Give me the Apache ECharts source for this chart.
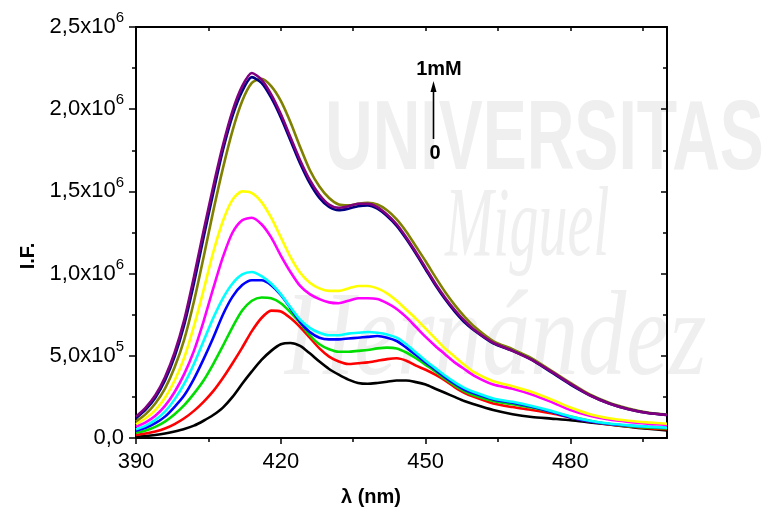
<!DOCTYPE html>
<html><head><meta charset="utf-8">
<script src="https://cdn.jsdelivr.net/npm/echarts@6/dist/echarts.min.js"></script>
<style>html,body{margin:0;padding:0;background:#fff}#c{width:767px;height:509px}</style>
</head><body><div id="c"></div>
<script>
// wavelength grid (nm)
const wavelengths = [390,392,394,396,398,400,402,404,406,408,410,412,414,416,418,420,422,424,426,428,430,432,434,436,438,440,442,444,446,448,450,452,454,456,458,460,464,468,472,476,480,484,488,492,496,500];
// fluorescence intensity, in units of 1e5
const black   = [0.08,0.12,0.18,0.27,0.4,0.55,0.75,1.05,1.4,1.85,2.5,3.3,4.05,4.75,5.3,5.7,5.78,5.6,5.15,4.65,4.2,3.85,3.55,3.35,3.3,3.35,3.42,3.5,3.5,3.4,3.25,3.0,2.75,2.5,2.25,2.05,1.7,1.45,1.28,1.18,1.08,0.95,0.82,0.68,0.56,0.46];
const red     = [0.18,0.27,0.4,0.58,0.85,1.2,1.65,2.2,2.85,3.65,4.55,5.5,6.5,7.3,7.75,7.7,7.3,6.75,6.1,5.45,4.95,4.65,4.5,4.55,4.6,4.7,4.8,4.85,4.7,4.4,4.15,3.85,3.5,3.1,2.75,2.5,2.1,1.88,1.7,1.5,1.25,1.0,0.82,0.7,0.6,0.53];
const green   = [0.32,0.46,0.68,1.0,1.45,2.0,2.7,3.5,4.5,5.6,6.75,7.75,8.35,8.55,8.5,8.2,7.65,7.0,6.25,5.7,5.4,5.25,5.25,5.3,5.35,5.45,5.5,5.45,5.2,4.85,4.45,4.05,3.6,3.2,2.85,2.6,2.25,2.05,1.85,1.6,1.3,1.05,0.85,0.72,0.64,0.58];
const blue    = [0.44,0.62,0.9,1.3,1.9,2.6,3.6,4.8,6.1,7.5,8.6,9.3,9.6,9.6,9.3,8.7,7.9,7.05,6.45,6.1,6.0,6.0,6.05,6.1,6.15,6.2,6.1,5.9,5.5,5.05,4.6,4.15,3.7,3.3,2.95,2.72,2.35,2.15,1.9,1.6,1.25,1.0,0.85,0.75,0.68,0.62];
const cyan    = [0.53,0.75,1.1,1.6,2.35,3.3,4.5,5.9,7.3,8.5,9.4,9.95,10.1,9.85,9.4,8.75,7.95,7.2,6.7,6.4,6.25,6.25,6.35,6.4,6.45,6.4,6.3,6.1,5.7,5.2,4.7,4.25,3.8,3.4,3.05,2.8,2.4,2.2,1.95,1.65,1.3,1.05,0.88,0.77,0.69,0.63];
const magenta = [0.69,0.95,1.35,1.95,2.8,3.9,5.3,7.1,9.1,11.0,12.5,13.25,13.4,13.0,12.2,11.1,10.1,9.25,8.75,8.45,8.25,8.2,8.35,8.5,8.5,8.45,8.2,7.85,7.35,6.75,6.15,5.6,5.1,4.6,4.2,3.8,3.25,3.0,2.65,2.2,1.7,1.35,1.12,0.98,0.87,0.8];
const yellow  = [0.85,1.2,1.7,2.45,3.5,4.9,6.8,9.0,11.3,13.2,14.5,15.0,14.9,14.35,13.4,12.2,11.0,10.05,9.45,9.1,8.95,8.95,9.1,9.25,9.25,9.1,8.8,8.35,7.8,7.25,6.65,6.05,5.45,4.95,4.45,4.0,3.45,3.15,2.8,2.35,1.85,1.45,1.2,1.05,0.95,0.87];
const olive   = [1.0,1.45,2.1,3.0,4.3,6.0,8.3,11.0,13.8,16.4,18.7,20.5,21.6,21.85,21.4,20.5,19.2,17.7,16.3,15.3,14.6,14.2,14.15,14.25,14.3,14.2,13.85,13.3,12.55,11.65,10.75,9.8,8.9,8.1,7.4,6.8,5.9,5.4,4.85,4.1,3.35,2.65,2.15,1.8,1.55,1.42];
const navy    = [1.2,1.72,2.45,3.5,4.95,6.9,9.4,12.2,14.9,17.5,19.6,21.1,21.95,21.6,20.7,19.5,18.1,16.7,15.5,14.6,14.05,13.85,13.95,14.1,14.15,13.95,13.5,12.9,12.1,11.2,10.25,9.3,8.45,7.7,7.05,6.55,5.75,5.3,4.75,4.0,3.25,2.6,2.1,1.75,1.52,1.4];
const purple  = [1.3,1.85,2.6,3.7,5.2,7.2,9.8,12.6,15.3,17.8,19.9,21.4,22.2,21.8,20.9,19.7,18.3,16.9,15.7,14.8,14.2,14.0,14.1,14.25,14.25,14.05,13.6,13.0,12.2,11.3,10.35,9.4,8.55,7.8,7.15,6.6,5.8,5.3,4.75,4.05,3.3,2.6,2.1,1.75,1.52,1.4];

const xMajorTicks = [390,420,450,480];
const xMinorTicks = [405,435,465,495];
const yTickValues = [0,500000,1000000,1500000,2000000,2500000];
const yTickMantissa = ['0,0','5,0x10','1,0x10','1,5x10','2,0x10','2,5x10'];
const yTickExponent = ['','5','6','6','6','6'];

const seriesList = [
  {name:'s0', data:black, color:'#000000'},
  {name:'s1', data:red, color:'#ff0000'},
  {name:'s2', data:green, color:'#00dd00'},
  {name:'s3', data:blue, color:'#0000ff'},
  {name:'s4', data:cyan, color:'#00ffff'},
  {name:'s5', data:magenta, color:'#ff00ff'},
  {name:'s6', data:yellow, color:'#ffff00'},
  {name:'s7', data:olive, color:'#808000'},
  {name:'s8', data:navy, color:'#000080'},
  {name:'s9', data:purple, color:'#800080'}
];

const FONT = '"Liberation Sans", Arial, sans-serif';
const chart = echarts.init(document.getElementById('c'), null, {renderer:'canvas'});

const axisLineStyle = {color:'#000', width:2};
const option = {
  animation:false,
  backgroundColor:'#ffffff',
  grid:{left:136, right:100, top:27, bottom:71, containLabel:false},
  xAxis:[
    {type:'value', min:390, max:500, interval:30, position:'bottom',
     axisLine:{show:true, onZero:false, lineStyle:axisLineStyle},
     axisTick:{show:true, customValues:xMajorTicks, length:6, lineStyle:{color:'#000', width:1.5}},
     axisLabel:{customValues:xMajorTicks, margin:13, color:'#000', fontSize:22, fontFamily:FONT},
     splitLine:{show:false}},
    {type:'value', min:390, max:500, interval:30, position:'bottom', gridIndex:0,
     axisLine:{show:false},
     axisTick:{show:true, customValues:xMinorTicks, length:4, lineStyle:{color:'#000', width:1.5}},
     axisLabel:{show:false}, splitLine:{show:false}},
    {type:'value', min:390, max:500, interval:30, position:'top', gridIndex:0,
     axisLine:{show:true, onZero:false, lineStyle:axisLineStyle},
     axisTick:{show:true, inside:true, customValues:xMajorTicks.concat(xMinorTicks), length:4, lineStyle:{color:'#000', width:1.5}},
     axisLabel:{show:false}, splitLine:{show:false}}
  ],
  yAxis:[
    {type:'value', min:0, max:2500000, interval:500000, position:'left',
     axisLine:{show:true, onZero:false, lineStyle:axisLineStyle},
     axisTick:{show:true, length:7, lineStyle:{color:'#000', width:1.5}},
     minorTick:{show:true, splitNumber:2, length:4, lineStyle:{color:'#000', width:1.5}},
     splitLine:{show:false},
     axisLabel:{margin:12, color:'#000', fontFamily:FONT,
       formatter:function(v){
         let i = -1;
         for (let k=0;k<yTickValues.length;k++){ if (Math.abs(yTickValues[k]-v) < 1) i = k; }
         if (i < 0) return '';
         return yTickExponent[i] ? '{m|'+yTickMantissa[i]+'}{s|'+yTickExponent[i]+'}' : '{m|'+yTickMantissa[i]+'}';
       },
       rich:{
         m:{fontSize:22, fontFamily:FONT, color:'#000', lineHeight:33},
         s:{fontSize:15, fontFamily:FONT, color:'#000', lineHeight:15, verticalAlign:'top'}
       }}},
    {type:'value', min:0, max:2500000, interval:500000, position:'right',
     axisLine:{show:true, onZero:false, lineStyle:axisLineStyle},
     axisTick:{show:true, inside:true, length:6, lineStyle:{color:'#000', width:1.5}},
     minorTick:{show:true, splitNumber:2, length:4, lineStyle:{color:'#000', width:1.5}},
     splitLine:{show:false}, axisLabel:{show:false}}
  ],
  series: seriesList.map(s => ({
    name:s.name, type:'line', xAxisIndex:0, yAxisIndex:0,
    data: wavelengths.map((w,i) => [w, s.data[i]*1e5]),
    smooth:0.25, showSymbol:false, symbol:'none',
    lineStyle:{color:s.color, width:2.6}, itemStyle:{color:s.color},
    z:3
  })),
  graphic:[
    {type:'text', x:325, y:92, scaleY:1.5, z:-5, silent:true,
     style:{text:'UNIVERSITAS', font:'bold 66px '+FONT, fill:'#efefef', textVerticalAlign:'top'}},
    {type:'text', x:445, y:180, scaleY:1.7, z:-5, silent:true,
     style:{text:'Miguel', font:'italic 58px "Liberation Serif", serif', fill:'#efefef', textVerticalAlign:'top'}},
    {type:'text', x:285, y:282, scaleY:1.25, z:-5, silent:true,
     style:{text:'Hernández', font:'italic 96px "Liberation Serif", serif', fill:'#efefef', textVerticalAlign:'top'}},
    {type:'text', x:28, y:256, rotation:Math.PI/2, z:10,
     style:{text:'I.F.', font:'bold 20px '+FONT, fill:'#000', textAlign:'center', textVerticalAlign:'middle'}},
    {type:'text', x:371, y:497, z:10,
     style:{text:'λ (nm)', font:'bold 20px '+FONT, fill:'#000', textAlign:'center', textVerticalAlign:'middle'}},
    {type:'text', x:439, y:69, z:10,
     style:{text:'1mM', font:'bold 20px '+FONT, fill:'#000', textAlign:'center', textVerticalAlign:'middle'}},
    {type:'text', x:435, y:153, z:10,
     style:{text:'0', font:'bold 20px '+FONT, fill:'#000', textAlign:'center', textVerticalAlign:'middle'}},
    {type:'line', z:10, shape:{x1:433.5, y1:90, x2:433.5, y2:139}, style:{stroke:'#000', lineWidth:1.6}},
    {type:'polygon', z:10, shape:{points:[[433.5,81],[430.5,92],[436.5,92]]}, style:{fill:'#000'}}
  ]
};
chart.setOption(option);
</script>
</body></html>
